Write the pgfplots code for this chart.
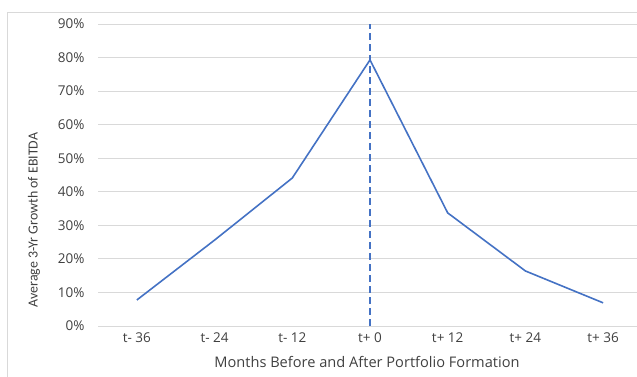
\documentclass[border=0pt]{standalone}
\usepackage{fontspec}
\setmainfont{Open Sans}
\newfontfamily\calib{Carlito}
\usepackage{pgfplots}
\pgfplotsset{compat=1.18}
\definecolor{lineblue}{HTML}{4472C4}
\definecolor{gridgray}{HTML}{D9D9D9}
\definecolor{txt}{HTML}{404040}
\begin{document}
\begin{tikzpicture}[x=1pt,y=1pt]
\clip (0,0) rectangle (637,377);
\draw[gridgray, line width=0.8pt] (7,-20) rectangle (660,365);
\begin{axis}[
  at={(98pt,51pt)}, anchor=south west,
  width=544pt, height=302pt, scale only axis,
  xmin=-0.5, xmax=6.5, ymin=0, ymax=0.9,
  axis line style={draw=none},
  tick style={draw=none},
  xtick={0,...,6},
  xticklabels={t- 36, t- 24, t- 12, t+ 0, t+ 12, t+ 24, t+ 36},
  ytick={0,0.1,...,0.9},
  yticklabel={\pgfmathparse{\tick*100}\pgfmathprintnumber[fixed,precision=0]{\pgfmathresult}\%},
  /pgf/number format/assume math mode=true,
  ymajorgrids, major grid style={gridgray, line width=0.8pt},
  tick label style={font=\fontsize{13.5}{16}\selectfont, text=txt},
  xticklabel style={yshift=-3pt},
  yticklabel style={xshift=-10pt},
  clip=false,
]
\addplot[lineblue, line width=1.6pt] coordinates {
(0,0.0775) (1,0.256) (2,0.441) (3,0.793) (4,0.337) (5,0.164) (6,0.069)
};
\addplot[lineblue, line width=2pt, dash pattern=on 7pt off 4pt] coordinates {(3,0) (3,0.9)};
\end{axis}
\node[text=txt, font=\fontsize{14.6}{17}\selectfont] at (367,15) {Months Before and After Portfolio Formation};
\node[text=txt, font=\calib\fontsize{13.9}{16}\selectfont, rotate=90] at (34,157) {Average 3-Yr Growth of EBITDA};
\end{tikzpicture}
\end{document}
